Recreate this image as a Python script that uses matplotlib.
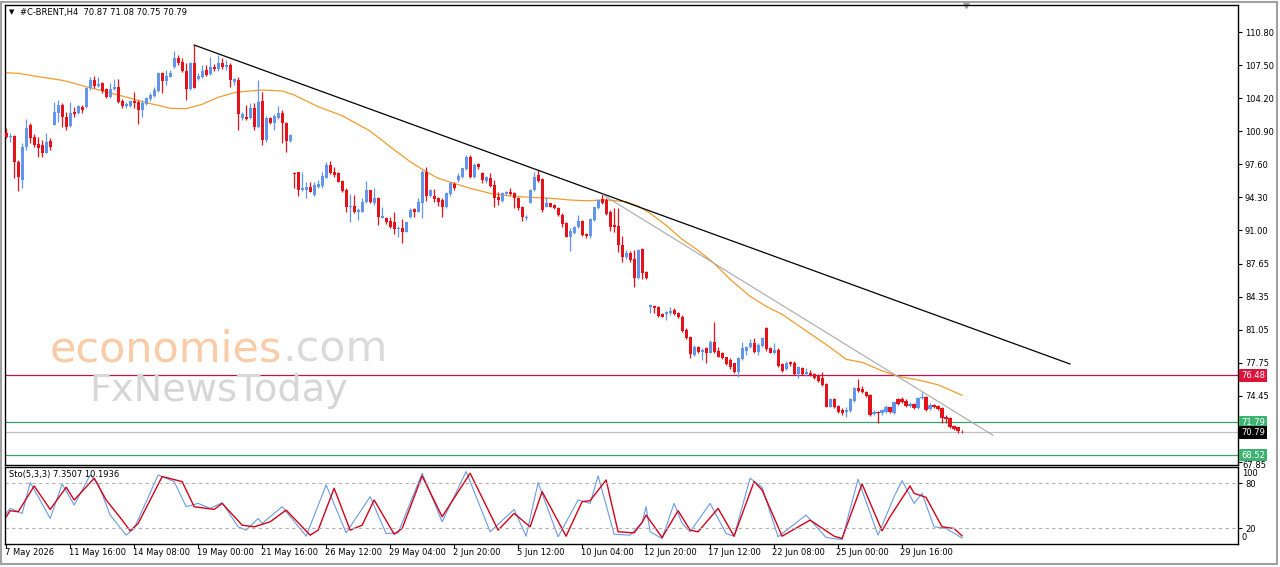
import numpy as np
import matplotlib
matplotlib.use('Agg')
import matplotlib.pyplot as plt
import matplotlib.transforms as mtransforms
from matplotlib.patches import Rectangle

# ---- data (H4 candles, bar index 0 = 7 May 00:00) ----
opens = [100.70, 100.33, 100.43, 97.86, 96.03, 99.36, 101.53, 100.30, 99.63, 99.53,
         98.76, 99.93, 101.53, 102.76, 103.53, 102.36, 101.43, 102.86, 102.70, 103.36,
         103.30, 105.20, 106.03, 105.43, 105.70, 105.10, 104.30, 105.13, 105.36, 103.96,
         103.46, 103.43, 103.93, 103.86, 103.03, 103.63, 104.10, 104.43, 104.96, 106.70,
         105.96, 106.36, 107.30, 108.20, 107.86, 106.96, 105.10, 107.70, 106.10, 106.30,
         107.03, 106.63, 107.30, 107.10, 107.76, 107.36, 107.53, 105.86, 106.00, 102.20,
         102.36, 102.20, 103.20, 101.36, 103.93, 100.03, 102.20, 101.70, 102.20, 102.70,
         101.70, 99.93, 96.70, 96.80, 95.03, 95.03, 95.33, 94.53, 95.33, 95.46,
         96.26, 97.53, 96.86, 96.70, 95.93, 95.03, 93.33, 93.46, 92.80, 92.86,
         93.80, 95.03, 93.70, 94.20, 92.26, 92.20, 91.93, 91.86, 91.13, 91.20,
         90.86, 92.36, 93.13, 92.86, 93.70, 96.86, 94.46, 94.46, 94.20, 94.03,
         93.36, 94.60, 95.60, 96.03, 96.36, 97.13, 98.36, 96.36, 97.63, 96.76,
         95.96, 96.20, 95.53, 94.36, 93.96, 94.63, 94.80, 94.70, 94.26, 93.36,
         92.20, 93.76, 95.03, 96.53, 96.10, 93.36, 93.70, 93.53, 93.20, 92.53,
         91.76, 90.36, 90.76, 91.36, 91.96, 90.63, 90.43, 92.03, 93.20, 94.10,
         94.03, 92.86, 91.53, 91.43, 89.53, 88.30, 88.70, 88.10, 86.20, 89.10,
         86.86, 83.30, 83.43, 83.36, 82.63, 82.63, 82.70, 83.03, 82.76, 82.36,
         81.03, 80.30, 78.53, 79.30, 78.86, 79.20, 78.76, 79.86, 78.96, 78.76,
         78.30, 78.03, 77.70, 76.86, 78.10, 78.96, 79.30, 79.70, 78.86, 79.43,
         81.20, 79.20, 78.70, 79.03, 77.63, 77.10, 77.86, 77.76, 76.63, 77.20,
         76.63, 76.76, 76.63, 76.43, 76.20, 75.63, 73.36, 74.10, 73.43, 73.03,
         72.86, 72.96, 73.96, 75.20, 75.10, 74.86, 74.53, 72.63, 72.86, 72.70,
         72.86, 73.30, 72.70, 74.10, 74.10, 73.96, 73.43, 73.63, 73.20, 74.20,
         74.36, 73.10, 73.53, 73.43, 73.20, 72.36, 72.20, 71.43, 71.30, 70.87]
highs = [101.20, 100.70, 100.53, 98.03, 99.70, 102.10, 101.70, 100.63, 100.36, 100.03,
         100.76, 100.20, 103.86, 104.03, 103.70, 102.86, 103.86, 103.36, 103.53, 103.53,
         105.36, 106.36, 106.43, 106.30, 105.86, 105.20, 105.76, 106.10, 106.10, 104.10,
         103.86, 104.03, 104.86, 104.03, 104.03, 104.36, 104.70, 105.36, 106.86, 106.86,
         107.03, 107.03, 108.96, 108.53, 108.20, 107.70, 107.86, 109.53, 106.70, 107.53,
         107.53, 108.36, 107.63, 108.53, 108.20, 108.03, 107.70, 106.20, 106.30, 102.80,
         103.53, 103.70, 103.70, 106.03, 104.86, 102.46, 102.36, 102.60, 103.46, 103.03,
         101.86, 100.60, 96.86, 96.86, 96.80, 95.86, 95.80, 95.86, 96.03, 96.86,
         97.80, 97.93, 97.36, 96.80, 96.03, 95.20, 94.60, 94.53, 93.20, 94.20,
         95.93, 95.03, 95.20, 94.36, 93.36, 92.36, 92.36, 92.86, 91.46, 92.13,
         91.86, 93.26, 93.26, 94.20, 97.03, 97.36, 95.13, 95.13, 94.36, 94.20,
         94.86, 95.80, 95.80, 96.70, 97.26, 98.53, 98.53, 97.70, 97.76, 96.86,
         96.43, 96.70, 96.03, 94.86, 94.86, 94.90, 95.20, 94.86, 94.36, 93.43,
         92.53, 95.10, 96.86, 97.03, 96.20, 94.30, 93.76, 93.63, 93.30, 92.70,
         91.86, 91.20, 91.43, 92.53, 92.03, 90.76, 92.20, 93.36, 94.10, 94.70,
         94.20, 93.03, 93.20, 93.20, 90.43, 89.03, 88.96, 89.03, 89.10, 89.20,
         86.96, 83.63, 83.50, 83.43, 82.76, 82.96, 83.36, 83.20, 82.86, 82.53,
         81.20, 80.43, 79.53, 79.43, 79.20, 79.36, 80.03, 81.86, 79.30, 78.86,
         78.36, 78.20, 77.76, 78.36, 79.86, 79.43, 80.10, 80.20, 79.76, 80.36,
         81.30, 79.30, 79.70, 79.20, 77.76, 77.96, 77.96, 77.96, 77.43, 77.30,
         77.20, 77.03, 76.76, 76.63, 76.86, 75.70, 74.20, 74.20, 73.53, 73.20,
         73.36, 74.20, 75.36, 76.10, 75.43, 74.96, 74.63, 73.03, 72.96, 73.10,
         73.53, 73.36, 73.96, 74.20, 74.30, 74.10, 73.86, 73.76, 74.30, 74.86,
         74.43, 73.70, 73.63, 73.53, 73.30, 72.53, 72.30, 71.53, 71.36, 71.08]
lows = [100.20, 99.86, 96.20, 94.96, 95.20, 99.03, 99.70, 99.36, 98.36, 98.36,
        98.70, 99.03, 101.53, 101.86, 101.36, 101.03, 101.30, 102.36, 102.63, 102.70,
        103.20, 105.03, 105.20, 105.36, 104.70, 104.20, 104.20, 105.03, 103.70, 103.20,
        103.20, 103.36, 103.20, 101.63, 102.30, 103.53, 103.96, 104.36, 104.86, 104.70,
        105.53, 106.30, 107.20, 107.53, 106.86, 104.03, 105.03, 105.20, 106.03, 106.20,
        106.43, 106.53, 106.96, 106.96, 107.10, 107.03, 105.30, 105.53, 101.03, 102.03,
        102.03, 102.13, 101.03, 101.20, 99.53, 99.80, 101.60, 101.03, 102.13, 99.70,
        98.80, 99.86, 95.20, 94.46, 94.93, 94.26, 94.80, 94.46, 95.20, 95.20,
        96.20, 96.60, 96.36, 95.80, 94.86, 92.86, 91.86, 92.70, 92.03, 92.80,
        93.70, 93.70, 93.53, 91.53, 92.20, 91.60, 91.20, 90.60, 90.36, 89.70,
        90.80, 92.26, 92.36, 92.80, 92.26, 93.93, 94.36, 93.86, 93.46, 92.36,
        93.26, 94.46, 95.03, 95.86, 96.26, 97.03, 96.26, 96.20, 97.10, 95.76,
        95.76, 95.30, 93.36, 93.53, 93.86, 94.53, 94.53, 93.20, 93.03, 91.96,
        92.03, 93.70, 94.96, 95.86, 92.86, 93.30, 93.30, 93.10, 92.43, 91.36,
        90.30, 88.96, 90.63, 91.20, 90.43, 90.20, 90.20, 91.96, 93.10, 93.63,
        92.53, 90.96, 90.86, 88.86, 87.86, 88.10, 87.86, 85.30, 86.10, 86.10,
        86.10, 82.76, 82.70, 82.36, 82.30, 82.03, 82.53, 82.53, 82.20, 80.86,
        80.10, 78.20, 78.43, 78.76, 78.03, 77.70, 78.70, 78.76, 78.30, 78.10,
        77.53, 77.10, 76.76, 76.36, 78.03, 78.53, 79.20, 78.76, 78.53, 79.36,
        78.96, 78.70, 78.63, 77.36, 76.86, 77.03, 77.43, 76.53, 76.20, 76.53,
        76.43, 76.43, 76.10, 75.86, 75.43, 73.30, 73.30, 73.20, 72.70, 72.53,
        72.36, 72.86, 73.86, 74.86, 74.76, 74.30, 72.43, 72.53, 71.76, 72.53,
        72.70, 72.76, 72.63, 73.53, 73.76, 73.36, 73.36, 73.10, 73.10, 74.10,
        72.96, 73.03, 73.20, 73.03, 71.70, 71.70, 71.20, 71.03, 70.76, 70.75]
closes = [100.30, 100.43, 97.86, 96.36, 99.36, 101.20, 100.20, 99.53, 99.20, 98.70,
          99.86, 99.36, 102.86, 103.53, 102.30, 101.30, 102.76, 102.63, 103.43, 103.03,
          105.20, 106.03, 105.43, 105.63, 104.96, 104.30, 105.10, 105.36, 103.86, 103.46,
          103.63, 103.93, 103.76, 103.03, 103.70, 104.20, 104.53, 105.03, 106.76, 105.96,
          106.43, 106.76, 108.20, 107.70, 106.96, 105.10, 107.70, 105.20, 106.43, 106.96,
          106.53, 107.30, 107.10, 107.70, 107.36, 107.53, 106.03, 106.10, 102.60, 102.60,
          102.13, 103.20, 101.36, 103.86, 100.03, 102.26, 101.70, 102.46, 102.70, 101.70,
          99.93, 100.53, 96.60, 95.03, 95.20, 95.33, 94.86, 95.53, 95.60, 96.46,
          97.53, 96.70, 96.53, 95.86, 94.93, 93.36, 93.46, 92.80, 93.03, 93.86,
          95.03, 93.80, 94.20, 92.36, 92.46, 91.80, 91.36, 91.13, 91.26, 90.86,
          91.80, 93.03, 92.80, 93.80, 96.86, 94.46, 95.03, 94.13, 93.80, 93.36,
          94.70, 95.70, 95.26, 96.46, 97.20, 98.36, 96.36, 97.53, 97.30, 96.03,
          96.30, 95.43, 94.20, 94.03, 94.70, 94.83, 94.60, 94.20, 93.20, 92.30,
          92.36, 95.03, 96.36, 95.96, 93.03, 93.76, 93.36, 93.20, 92.53, 91.63,
          90.36, 90.96, 91.30, 91.96, 90.53, 90.43, 92.10, 93.30, 94.03, 93.70,
          92.63, 91.36, 91.36, 89.53, 88.36, 88.70, 88.03, 86.20, 89.03, 86.76,
          86.20, 83.50, 83.20, 82.43, 82.36, 82.83, 82.96, 82.63, 82.30, 80.96,
          80.20, 78.63, 79.36, 78.86, 79.03, 78.76, 79.86, 78.86, 78.36, 78.20,
          77.63, 77.36, 76.86, 78.20, 79.20, 79.36, 79.76, 78.86, 79.53, 80.20,
          79.10, 78.76, 79.03, 77.43, 76.96, 77.76, 77.63, 76.63, 77.30, 76.63,
          76.86, 76.53, 76.20, 75.96, 75.53, 73.36, 74.10, 73.30, 72.86, 72.70,
          73.03, 74.10, 75.20, 74.96, 74.86, 74.43, 72.53, 72.86, 72.70, 73.03,
          73.36, 72.86, 73.86, 73.63, 73.86, 73.43, 73.63, 73.20, 74.20, 74.36,
          73.03, 73.53, 73.30, 73.10, 72.20, 72.10, 71.36, 71.10, 70.96, 70.79]

# moving average (orange), read at selected bars
ma_bars = [0, 3, 9, 14, 17, 20, 24, 28, 32, 35, 38, 41, 45, 49, 53, 57, 60, 64, 69, 72,
           78, 84, 91, 96, 101, 105, 108, 112, 116, 121, 126, 131, 136, 141, 145, 150, 155,
           158, 161, 165, 169, 173, 177, 181, 186, 190, 194, 198, 202, 206, 210, 214, 219,
           223, 228, 233, 239]
ma_vals = [106.75, 106.7, 106.3, 106.0, 105.7, 105.36, 104.96, 104.53, 104.1, 103.76,
           103.5, 103.2, 103.16, 103.6, 104.3, 104.76, 104.9, 105.03, 104.93, 104.53,
           103.36, 102.46, 100.93, 99.36, 97.86, 96.86, 96.2, 95.7, 95.2, 94.7, 94.43,
           94.3, 94.2, 94.03, 93.95, 94.05, 93.86, 93.43, 92.7, 91.5, 90.1, 89.0, 87.7,
           86.1, 84.4, 83.4, 82.6, 81.5, 80.4, 79.3, 78.1, 77.8, 76.95, 76.4, 76.03,
           75.55, 74.5]

# trend lines (bar, price)
trend_black_x = [47, 266]
trend_black_y = [109.53, 77.63]
trend_gray_x = [149, 246.75]
trend_gray_y = [94.6, 70.5]

# horizontal levels
levels = [76.48, 71.79, 70.79, 68.52]
level_labels = ['76.48', '71.79', '70.79', '68.52']

price_ticks = [110.80, 107.50, 104.20, 100.90, 97.60, 94.30, 91.00, 87.65, 84.35,
               81.05, 77.75, 74.45, 67.85]

# stochastic %K (blue) and %D (red)
k_bars = [0, 1, 4, 6, 8, 11, 14, 17, 21, 23, 26, 30, 32, 38, 42, 45, 48, 51, 54, 58,
          60, 63, 64, 69, 75, 80, 85, 91, 95, 98, 104, 109, 115, 121, 127, 130, 133, 138,
          143, 146, 148, 152, 156, 159, 160, 161, 164, 167, 169, 171, 176, 180, 182, 186,
          189, 193, 200, 205, 209, 213, 218, 222, 224, 227, 229, 232, 235, 239]
k_vals = [40, 46.7, 40, 80.9, 62.2, 33.3, 79.1, 51.1, 91.1, 79.1, 37.8, 11.1, 20, 91.1,
          82.2, 48.9, 53.3, 46.7, 54.2, 22.2, 17.8, 33.3, 26.7, 48.9, 9.8, 77.8, 14.2, 62.2,
          13.3, 14.2, 93.3, 28.9, 95.6, 15.6, 45.3, 9.8, 80.9, 8.9, 57.8, 53.3, 89.8, 12.4,
          11.1, 28, 48.9, 15.6, 6.7, 53.3, 26.7, 15.6, 53.3, 13.3, 9.8, 86.7, 74.7, 8.9,
          37.8, 8.0, 5.3, 85.3, 11.1, 62.2, 83.6, 53.3, 66.7, 22.2, 20, 7.35]
d_bars = [0, 1, 3, 7, 11, 15, 17, 22, 25, 28, 29, 31, 33, 39, 44, 47, 52, 54, 59, 62,
          66, 70, 76, 78, 82, 86, 89, 92, 97, 99, 104, 109, 116, 123, 127, 131, 134, 140,
          144, 146, 150, 153, 157, 159, 160, 164, 168, 171, 173, 178, 182, 187, 189, 194,
          201, 207, 209, 214, 219, 221, 226, 227, 230, 234, 237, 239]
d_vals = [35.6, 43.6, 42.2, 76.4, 45.3, 74.7, 57.8, 86.7, 57.8, 37.8, 31.1, 16.9, 26.7,
          88.9, 82.2, 48.9, 45.3, 53.3, 24.4, 22.2, 28.9, 44.4, 11.1, 17.8, 73.3, 17.8,
          24.4, 57.8, 12.4, 20, 89.8, 35.6, 93.3, 17.8, 40, 22.2, 68.9, 9.8, 55.6, 56.9,
          84.4, 15.6, 14.2, 28, 37.8, 8.0, 43.6, 17.8, 15.6, 46.7, 9.8, 82.2, 71.1, 9.8,
          31.1, 9.8, 6.7, 79.1, 16.9, 35.6, 76.4, 66.7, 61.3, 22.2, 20, 10.19]

date_bars = list(range(0, 225, 16))
date_labels = ['7 May 2026', '11 May 16:00', '14 May 08:00', '19 May 00:00', '21 May 16:00',
               '26 May 12:00', '29 May 04:00', '2 Jun 20:00', '5 Jun 12:00', '10 Jun 04:00',
               '12 Jun 20:00', '17 Jun 12:00', '22 Jun 08:00', '25 Jun 00:00', '29 Jun 16:00']

plt.rcParams['font.family'] = ['DejaVu Sans']
FS = 6

W, H = 1280, 567
fig = plt.figure(figsize=(W / 100, H / 100), dpi=100)
fig.patch.set_facecolor('white')

ax = fig.add_axes([5 / W, 1 - 465 / H, 1233 / W, 460 / H])
ax2 = fig.add_axes([5 / W, 1 - 544 / H, 1233 / W, 77 / H])

# ---- candles ----
o = np.array(opens)
c = np.array(closes)
x = np.arange(len(o))
bull = c >= o
cols = np.where(bull, '#6495ED', '#E3121B')
ax.vlines(x, lows, highs, colors=cols, lw=0.9, zorder=3)
body_lo = np.minimum(o, c)
body_h = np.maximum(np.abs(c - o), 0.07)
ax.bar(x, body_h, bottom=body_lo, width=0.78, color=cols, lw=0, zorder=4)

ax.plot(ma_bars, ma_vals, color='#F29B30', lw=0.9, zorder=2)
ax.plot(trend_black_x, trend_black_y, color='black', lw=0.9, zorder=5)
ax.plot(trend_gray_x, trend_gray_y, color='#A8A8A8', lw=0.8, zorder=5)

level_colors = ['#B5174A', '#3CA06A', '#C0C0C0', '#3CA06A']
box_colors = ['#DC143C', '#3CB371', 'black', '#3CB371']
lab_tr = mtransforms.blended_transform_factory(ax.transAxes, ax.transData)
for lv, lc, bc, lt in zip(levels, level_colors, box_colors, level_labels):
    ax.axhline(lv, color=lc, lw=0.9, zorder=1)
    ax.text(1 + 3 / 1233, lv, lt, transform=lab_tr, fontsize=FS, color='white',
            va='center', ha='left', clip_on=False, zorder=10,
            bbox=dict(boxstyle='square,pad=0.2', fc=bc, ec='none'))

ax.set_xlim(-0.3, 308)
ax.set_ylim(67.53, 113.53)
ax.yaxis.tick_right()
ax.set_yticks(price_ticks)
ax.set_yticklabels(['%.2f' % v for v in price_ticks[:-1]] + [''])
ax.tick_params(axis='y', direction='out', length=3, width=0.8, labelsize=FS, pad=2)
ax.set_xticks([])
for s in ax.spines.values():
    s.set_color('black')
    s.set_linewidth(1)
# lowest price caption sits on the pane border, nudged down a little
low_off = mtransforms.ScaledTranslation(0, -2.5 / 72, fig.dpi_scale_trans)
ax.text(1 + 4 / 1233, price_ticks[-1], '%.2f' % price_ticks[-1], fontsize=FS,
        transform=lab_tr + low_off, va='center', ha='left', clip_on=False)

# watermark
wm1 = fig.text(50 / W, 1 - 362 / H, 'economies', fontsize=31, color='#F9CBA7',
               ha='left', va='baseline', zorder=20)
fig.canvas.draw()
bb = wm1.get_window_extent()
fig.text(bb.x1 / W, 1 - 362 / H, '.com', fontsize=31, color='#DADADA', ha='left',
         va='baseline', zorder=20)
fig.text(89 / W, 1 - 401 / H, 'FxNewsToday', fontsize=27.5, color='#D6D6D6', ha='left',
         va='baseline', zorder=20)

# title
fig.text(9 / W, 1 - 12 / H, '\u25BC', fontsize=5, color='black', va='center')
fig.text(20 / W, 1 - 12 / H, '#C-BRENT,H4  70.87 71.08 70.75 70.79', fontsize=FS,
         color='black', va='center')
ax.plot([240], [1.0], marker='v', color='#A0A0A0', markersize=5,
        transform=mtransforms.blended_transform_factory(ax.transData, ax.transAxes),
        clip_on=False)

# ---- stochastic pane ----
ax2.plot(k_bars, k_vals, color='#6A9BE0', lw=0.8)
ax2.plot(d_bars, d_vals, color='#D0021B', lw=1.0)
for lv in (80, 20):
    ax2.axhline(lv, color='#B0B0B0', lw=0.8, ls=(0, (3, 3)))
ax2.set_xlim(-0.3, 308)
ax2.set_ylim(-0.6, 101.6)
ax2.yaxis.tick_right()
ax2.set_yticks([80, 20])
ax2.set_yticklabels(['80', '20'])
ax2.tick_params(axis='y', direction='out', length=3, width=0.8, labelsize=FS, pad=2)
# terminal draws the 100 / 0 captions just inside the pane limits
ax2.text(1 + 4 / 1233, 1 - 7 / 77, '100', transform=ax2.transAxes, fontsize=FS,
         va='center', ha='left', clip_on=False)
ax2.text(1 + 4 / 1233, 6 / 77, '0', transform=ax2.transAxes, fontsize=FS,
         va='center', ha='left', clip_on=False)
ax2.set_xticks(date_bars)
ax2.set_xticklabels([])
ax2.tick_params(axis='x', direction='out', length=3, width=0.8)
dtr = mtransforms.blended_transform_factory(ax2.transData, ax2.transAxes)
for b, t in zip(date_bars, date_labels):
    ax2.text(b - 0.4, -0.05, t, transform=dtr, fontsize=FS, ha='left', va='top',
             clip_on=False)
for s in ax2.spines.values():
    s.set_color('black')
    s.set_linewidth(1)
ax2.text(4 / 1233, 0.9, 'Sto(5,3,3) 7.3507 10.1936', transform=ax2.transAxes,
         fontsize=FS, va='center', ha='left')

# window frame
fig.add_artist(Rectangle((1 / W, 3 / H), 1276 / W, 562 / H, transform=fig.transFigure,
                         fill=False, ec='#A0A0A0', lw=1.5))

fig.savefig('out.png', dpi=100)
